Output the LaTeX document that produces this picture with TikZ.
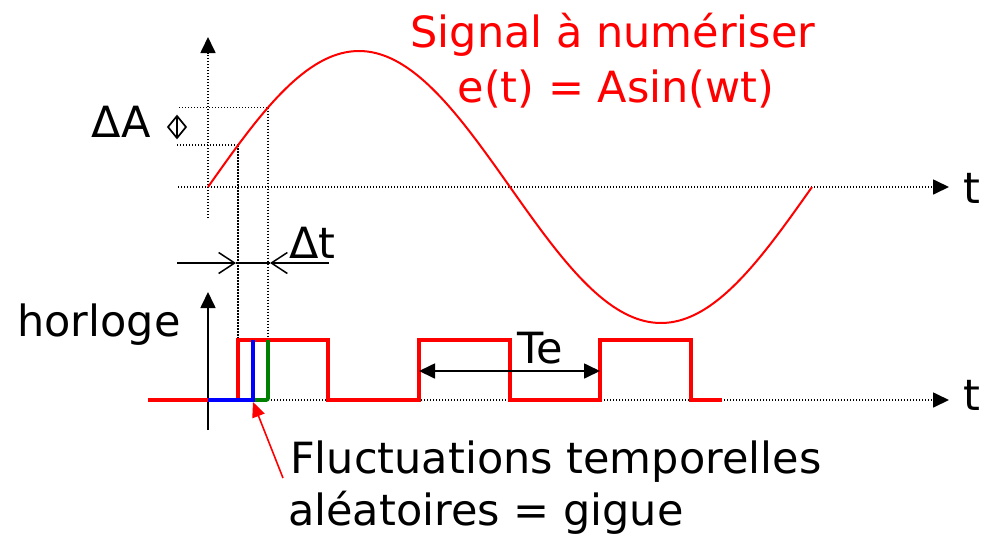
\documentclass[tikz,border=0pt]{standalone}
\usepackage{fontspec}
\setmainfont{DejaVu Sans}
\usetikzlibrary{arrows.meta}
\definecolor{sigred}{RGB}{255,0,0}
\definecolor{jitblue}{RGB}{0,0,255}
\definecolor{jitgreen}{RGB}{0,128,0}
\tikzset{
  dotaxis/.style={line width=1.7pt, dash pattern=on 1.4pt off 1.6pt, -{Triangle[length=16pt,width=15pt]}},
  dotguide/.style={line width=1.7pt, dash pattern=on 1.4pt off 1.6pt},
  lbl/.style={font=\fontsize{43}{43}\selectfont, inner sep=0pt},
  redlbl/.style={lbl, text=sigred},
  barb/.style={line width=1.5pt, -{Straight Barb[length=16pt,width=21pt]}},
  clk/.style={sigred, line width=3.8pt},
}
\begin{document}
\begin{tikzpicture}[x=1pt,y=-1pt]
\useasboundingbox[fill=white] (0,0) rectangle (983,542);

% key coordinates
\coordinate (yb) at (208,218);
\coordinate (yt) at (208,37);
\coordinate (ta0) at (178,187);
\coordinate (ta1) at (949,187);
\coordinate (tb0) at (208,400);
\coordinate (tb1) at (949,400);
\coordinate (cb) at (208,430);
\coordinate (ct) at (208,292);

% axes
\draw[dotaxis] (yb) -- (yt);
\draw[dotaxis] (ta0) -- (ta1);
\draw[dotaxis] (tb0) -- (tb1);
\draw[line width=1.7pt, -{Triangle[length=16pt,width=15pt]}] (cb) -- (ct);

\node[lbl, anchor=base west] (tU) at (963,203) {t};
\node[lbl, anchor=base west] (tL) at (963,410) {t};

% guide lines
\coordinate (p1) at (238,145.2);
\coordinate (p2) at (268,107.5);
\coordinate (q1) at (238,340);
\coordinate (q2) at (268,340);
\coordinate (h1) at (177,145.2);
\coordinate (h2) at (179,107.5);
\draw[dotguide] (p1) -- (q1);
\draw[dotguide] (p2) -- (q2);
\draw[dotguide] (h1) -- (p1);
\draw[dotguide] (h2) -- (p2);

% sine
\draw[sigred, line width=2pt] plot[domain=0:360, samples=160, smooth] ({208+\x*1.67778},{187-136*sin(\x)});

% Delta A marker
\draw[line width=1.7pt] (177,116) -- (186,127) -- (177,138) -- (168,127) -- cycle (177,116) -- (177,138);
\node[lbl, anchor=base east] (dA) at (151,137) {ΔA};

% Delta t
\coordinate (dl0) at (177,263);
\coordinate (dl1) at (236,263);
\coordinate (dr0) at (329,263);
\coordinate (dr1) at (270,263);
\draw[line width=1.5pt] (dl1) -- (dr1);
\draw[barb] (dl0) -- (dl1);
\draw[barb] (dr0) -- (dr1);
\node[lbl, anchor=base west] (dt) at (289,258) {Δt};

% clock
\node[lbl, anchor=base west] (hl) at (17,336) {horloge};
\draw[clk, line join=miter] (148,400) -- (238,400) -- (238,340) -- (328,340) -- (328,400) -- (419,400) -- (419,340) -- (510,340) -- (510,400) -- (600,400) -- (600,340) -- (691,340) -- (691,400) -- (722,400);
\draw[jitgreen, line width=3.8pt, rounded corners=2pt] (253,400) -- (268,400) -- (268,340);
\draw[jitblue, line width=3.8pt] (208,400) -- (253,400) -- (253,340);

% Te
\coordinate (te0) at (419,371);
\coordinate (te1) at (600,371);
\draw[line width=1.7pt, {Triangle[length=16pt,width=15pt]}-{Triangle[length=16pt,width=15pt]}] (te0) -- (te1);
\node[lbl, anchor=base west] (te) at (517,363) {Te};

% titles
\node[redlbl, anchor=base] (s1) at (613,47) {Signal à numériser};
\node[redlbl, anchor=base] (s2) at (616,102) {e(t) = Asin(wt)};

% jitter note
\node[lbl, anchor=base west] (f1) at (290,473) {Fluctuations temporelles};
\node[lbl, anchor=base west] (f2) at (288,525) {aléatoires = gigue};
\coordinate (ra0) at (283,478);
\coordinate (ra1) at (253,402);
\draw[sigred, line width=1.6pt, -{Triangle[length=15pt,width=13pt]}] (ra0) -- (ra1);
\end{tikzpicture}
\end{document}
